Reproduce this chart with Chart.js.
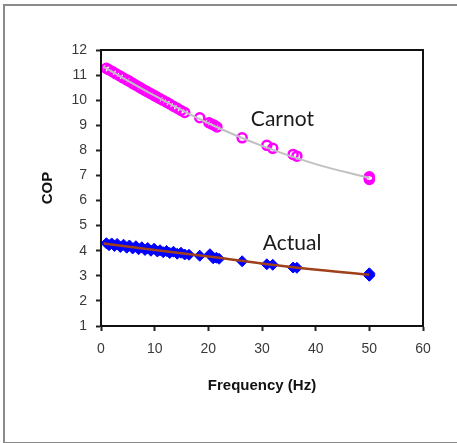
<!DOCTYPE html>
<html lang="en">
<head>
  <meta charset="UTF-8" />
  <title>COP vs Frequency</title>
  <script src="https://cdn.jsdelivr.net/npm/chart.js"></script>
  <style>
    body {
      margin: 0;
      background: #fff;
    }
    #wrap {
      position: relative;
      width: 457px;
      height: 443px;
      overflow: hidden;
    }
    #frame {
      position: absolute;
      left: 3px;
      top: 4px;
      width: 470px;
      height: 436px;
      border: 2px solid #8a8a8a;
      border-right: none;
    }
    canvas {
      position: absolute;
      left: 0;
      top: 0;
    }
  </style>
</head>
<body>
  <div id="wrap">
    <div id="frame"></div>
    <canvas id="chart" width="457" height="443"></canvas>
  </div>

  <script>
    // Carnot COP (open circles)
    const carnotFreq = [1, 1.5, 2.2, 2.8, 3.5, 4.1, 4.8, 5.3, 5.9, 6.4, 7.0, 7.5, 8.1, 8.6, 9.2, 9.8,
      10.3, 10.9, 11.5, 12.2, 12.8, 13.5, 14.2, 14.9, 15.6, 18.4, 20.1, 20.6, 21.1, 21.6, 26.3,
      30.9, 32.0, 35.8, 36.5, 50, 50, 50];
    const carnotCop = [11.27, 11.21, 11.13, 11.05, 10.97, 10.89, 10.81, 10.75, 10.67, 10.61, 10.54,
      10.47, 10.40, 10.34, 10.27, 10.20, 10.14, 10.07, 10.00, 9.92, 9.85, 9.76, 9.68, 9.59, 9.51,
      9.30, 9.10, 9.05, 9.00, 8.93, 8.50, 8.20, 8.08, 7.84, 7.77, 6.95, 6.88, 6.84];

    // Actual COP (filled diamonds)
    const actualFreq = [1, 1.5, 2, 2.5, 3, 3.6, 4.2, 4.8, 5.3, 5.9, 6.5, 7, 7.6, 8.2, 8.7, 9.3, 9.9,
      10.5, 11, 11.6, 12.2, 12.8, 13.5, 14.2, 14.9, 15.6, 16.4, 18.4, 20.3, 20.9, 21.5, 22,
      26.3, 30.9, 32.0, 35.8, 36.5, 50, 50, 50];
    const actualCop = [4.30, 4.22, 4.29, 4.19, 4.27, 4.15, 4.24, 4.12, 4.21, 4.09, 4.18, 4.06, 4.14,
      4.03, 4.11, 4.00, 4.08, 3.97, 4.02, 3.94, 3.99, 3.91, 3.96, 3.88, 3.92, 3.85, 3.84, 3.80,
      3.86, 3.70, 3.72, 3.68, 3.58, 3.46, 3.44, 3.33, 3.32, 3.10, 3.04, 3.00];

    // trend lines
    const carnotTrendFreq = [0.5, 10, 20, 30, 40, 50];
    const carnotTrendCop = [11.33, 10.18, 9.08, 8.18, 7.45, 6.9];
    const actualTrendFreq = [0.5, 10, 20, 35, 50];
    const actualTrendCop = [4.29, 4.03, 3.77, 3.36, 3.04];

    const xTicks = [0, 10, 20, 30, 40, 50, 60];
    const yTicks = [1, 2, 3, 4, 5, 6, 7, 8, 9, 10, 11, 12];

    const labels = [
      { text: "Carnot", x: 33.8, y: 9.25 },
      { text: "Actual", x: 35.6, y: 4.28 }
    ];

    const toPoints = (xs, ys) => xs.map((x, i) => ({ x: x, y: ys[i] }));

    // plot box, annotations and axis titles
    const extras = {
      id: "extras",
      afterDraw(chart) {
        const ctx = chart.ctx;
        const a = chart.chartArea;
        const sx = chart.scales.x, sy = chart.scales.y;
        ctx.save();
        ctx.strokeStyle = "#111";
        ctx.lineWidth = 2;
        ctx.strokeRect(a.left, a.top, a.right - a.left, a.bottom - a.top);

        ctx.fillStyle = "#1a1a1a";
        ctx.font = "21px Lato";
        ctx.textAlign = "center";
        ctx.textBaseline = "middle";
        labels.forEach(l => {
          ctx.fillText(l.text, sx.getPixelForValue(l.x), sy.getPixelForValue(l.y));
        });

        ctx.font = "bold 15px 'Liberation Sans'";
        ctx.fillStyle = "#111";
        ctx.fillText("Frequency (Hz)", 262, 386);
        ctx.translate(48, 188);
        ctx.rotate(-Math.PI / 2);
        ctx.fillText("COP", 0, 0);
        ctx.restore();
      }
    };

    new Chart(document.getElementById("chart"), {
      type: "scatter",
      data: {
        datasets: [
          {
            data: toPoints(carnotTrendFreq, carnotTrendCop),
            showLine: true,
            borderColor: "#c0c0c0",
            borderWidth: 2,
            pointRadius: 0,
            tension: 0.4,
            order: 0
          },
          {
            data: toPoints(actualTrendFreq, actualTrendCop),
            showLine: true,
            borderColor: "#a0401a",
            borderWidth: 2.5,
            pointRadius: 0,
            tension: 0.4,
            order: 0
          },
          {
            data: toPoints(carnotFreq, carnotCop),
            pointStyle: "circle",
            pointRadius: 4.5,
            borderColor: "#ff00ff",
            backgroundColor: "rgba(255,255,255,0)",
            borderWidth: 2.5,
            order: 1
          },
          {
            data: toPoints(actualFreq, actualCop),
            pointStyle: "rectRot",
            pointRadius: 5.5,
            borderColor: "#0000ff",
            backgroundColor: "#0000ff",
            borderWidth: 1,
            order: 1
          }
        ]
      },
      options: {
        responsive: false,
        animation: false,
        layout: { padding: { top: 50, right: 34, left: 0, bottom: 0 } },
        plugins: {
          legend: { display: false },
          tooltip: { enabled: false }
        },
        scales: {
          x: {
            type: "linear",
            min: 0,
            max: 60,
            afterFit(scale) { scale.height = 117; },
            afterBuildTicks(scale) { scale.ticks = xTicks.map(v => ({ value: v })); },
            grid: { drawOnChartArea: false, tickLength: 5, color: "#222", tickWidth: 2 },
            border: { color: "#111", width: 2 },
            ticks: {
              padding: 10,
              color: "#3a3a3a",
              font: { family: "'Liberation Sans'", size: 14 }
            }
          },
          y: {
            type: "linear",
            min: 1,
            max: 12,
            afterFit(scale) { scale.width = 101; },
            afterBuildTicks(scale) { scale.ticks = yTicks.map(v => ({ value: v })); },
            grid: { drawOnChartArea: false, tickLength: 5, color: "#222", tickWidth: 2 },
            border: { color: "#111", width: 2 },
            ticks: {
              padding: 9,
              color: "#3a3a3a",
              font: { family: "'Liberation Sans'", size: 14 }
            }
          }
        }
      },
      plugins: [extras]
    });
  </script>
</body>
</html>
